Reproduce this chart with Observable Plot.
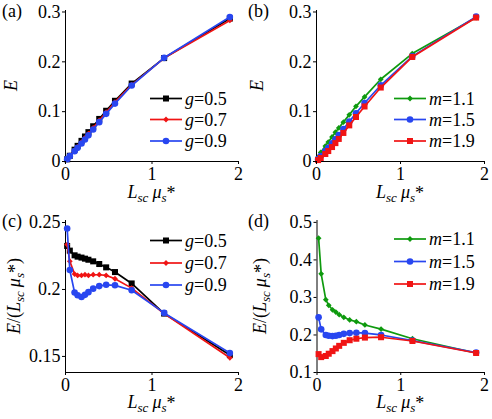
<!DOCTYPE html>
<html>
<head>
<meta charset="utf-8">
<script src="https://cdn.jsdelivr.net/npm/d3@7"></script>
<script src="https://cdn.jsdelivr.net/npm/@observablehq/plot@0.6"></script>
<style>
  body { margin: 0; background: white; }
  #wrap { position: relative; width: 492px; height: 419px; background: white; }
  #wrap svg { position: absolute; }
</style>
</head>
<body>
<div id="wrap"></div>
<script>
// ---- data ----
const X = [0.019, 0.05, 0.105, 0.14, 0.185, 0.225, 0.265, 0.32, 0.39, 0.47, 0.572, 0.765, 1.14, 1.9];

// (a) E vs L_sc mu_s*, varying g
const E_g05 = [0.0044, 0.0115, 0.0237, 0.0314, 0.0414, 0.0502, 0.0589, 0.0707, 0.0854, 0.1018, 0.1218, 0.1564, 0.2075, 0.2869];
const E_g07 = [0.0044, 0.0110, 0.0222, 0.0295, 0.0389, 0.0475, 0.0559, 0.0675, 0.0823, 0.0989, 0.1190, 0.1538, 0.2075, 0.2831];
const E_g09 = [0.0047, 0.0107, 0.0208, 0.0274, 0.0360, 0.0441, 0.0525, 0.0642, 0.0790, 0.0956, 0.1162, 0.1525, 0.2080, 0.2898];
// (b) E vs L_sc mu_s*, varying m
const E_m11 = [0.0087, 0.0182, 0.0309, 0.0391, 0.0494, 0.0587, 0.0673, 0.0790, 0.0936, 0.1107, 0.1296, 0.1650, 0.2166, 0.2888];
const E_m15 = [0.0047, 0.0108, 0.0210, 0.0277, 0.0364, 0.0446, 0.0530, 0.0650, 0.0800, 0.0968, 0.1173, 0.1530, 0.2109, 0.2907];
const E_m19 = [0.0028, 0.0070, 0.0151, 0.0210, 0.0290, 0.0369, 0.0453, 0.0573, 0.0725, 0.0893, 0.1104, 0.1484, 0.2098, 0.2888];
// (c) E/(L_sc mu_s*), varying g
const R_g05 = [0.2325, 0.229, 0.2255, 0.2245, 0.2238, 0.223, 0.2222, 0.221, 0.219, 0.2165, 0.213, 0.2045, 0.182, 0.151];
const R_g07 = [0.2335, 0.221, 0.2115, 0.2105, 0.2105, 0.211, 0.2105, 0.211, 0.211, 0.2105, 0.208, 0.201, 0.182, 0.149];
const R_g09 = [0.2455, 0.2145, 0.1977, 0.1957, 0.1944, 0.196, 0.198, 0.2006, 0.2025, 0.2035, 0.2031, 0.1994, 0.1825, 0.1525];
// (d) E/(L_sc mu_s*), varying m
const R_m11 = [0.458, 0.363, 0.294, 0.279, 0.267, 0.261, 0.254, 0.247, 0.240, 0.2355, 0.2266, 0.2157, 0.19, 0.152];
const R_m15 = [0.247, 0.215, 0.2, 0.198, 0.197, 0.198, 0.2, 0.203, 0.205, 0.206, 0.205, 0.2, 0.185, 0.153];
const R_m19 = [0.149, 0.141, 0.144, 0.15, 0.157, 0.164, 0.171, 0.179, 0.186, 0.19, 0.193, 0.194, 0.184, 0.152];

const xTicks = [0, 1, 2];
const yTicksE = [0, 0.1, 0.2, 0.3];
const yTicksC = [0.15, 0.2, 0.25];
const yTicksD = [0.1, 0.2, 0.3, 0.4, 0.5];
const gNames = ["0.5", "0.7", "0.9"];
const mNames = ["1.1", "1.5", "1.9"];
const panelNames = ["(a)", "(b)", "(c)", "(d)"];

// ---- styles ----
const FONT = "'Liberation Serif', 'Times New Roman', serif";
const BLACK = "#000000", RED = "#f01414", BLUE = "#2846f0", GREEN = "#0e9a0e";
const SQ = {symbol: "square", r: 3.4};
const DI = {symbol: "diamond2", r: 2.6};
const CI = {symbol: "circle", r: 3.3};

function makePanel(cfg) {
  const marks = [
    Plot.ruleX([0], {stroke: "black", strokeWidth: 1}),
    Plot.ruleY([cfg.ydomain[0]], {stroke: "black", strokeWidth: 1})
  ];
  for (const s of cfg.series) {
    const data = X.map((x, i) => ({x, y: s.y[i]}));
    marks.push(Plot.line(data, {x: "x", y: "y", stroke: s.color, strokeWidth: 1.7}));
    marks.push(Plot.dot(data, {x: "x", y: "y", fill: s.color, stroke: "none", symbol: s.mk.symbol, r: s.mk.r}));
  }
  marks.push(Plot.axisX({ticks: xTicks, tickSize: 3, tickPadding: 3, tickFormat: d => String(d), label: null}));
  marks.push(Plot.axisY({ticks: cfg.yticks, tickSize: 3, tickPadding: 2, tickFormat: d => String(d), label: null}));
  const svg = Plot.plot({
    width: 246, height: cfg.height,
    marginLeft: cfg.ml, marginRight: cfg.mr, marginTop: cfg.mt, marginBottom: cfg.mb,
    x: {domain: [0, 2]},
    y: {domain: cfg.ydomain},
    style: {fontFamily: FONT, fontSize: "18px", color: "black", background: "transparent", overflow: "visible"},
    marks
  });
  svg.style.left = cfg.left + "px";
  svg.style.top = cfg.top + "px";
  document.getElementById("wrap").appendChild(svg);

  const g = d3.select(svg).append("g").attr("font-family", FONT).attr("fill", "black").attr("text-anchor", "start");
  // panel label
  g.append("text").attr("x", 2).attr("y", cfg.mt + 7).attr("font-size", 18).attr("text-anchor", "start").text(cfg.name);
  // x label
  const plotCx = cfg.ml + (246 - cfg.ml - cfg.mr) / 2;
  const xl = g.append("text").attr("x", plotCx).attr("y", cfg.height - 11).attr("text-anchor", "middle").attr("font-size", 18);
  xl.append("tspan").attr("font-style", "italic").text("L");
  xl.append("tspan").attr("font-style", "italic").attr("font-size", 13).attr("dy", 4).text("sc");
  xl.append("tspan").attr("font-style", "italic").attr("dy", -4).attr("dx", 4).text("μ");
  xl.append("tspan").attr("font-style", "italic").attr("font-size", 13).attr("dy", 4).text("s");
  xl.append("tspan").attr("dy", -3).text("*");
  // y label
  const plotCy = cfg.mt + (cfg.height - cfg.mt - cfg.mb) / 2;
  const yl = g.append("text").attr("transform", `translate(${cfg.ylx},${plotCy}) rotate(-90)`).attr("text-anchor", "middle").attr("font-size", 18);
  if (cfg.ratio) {
    yl.append("tspan").attr("font-style", "italic").text("E");
    yl.append("tspan").text("/(");
    yl.append("tspan").attr("font-style", "italic").text("L");
    yl.append("tspan").attr("font-style", "italic").attr("font-size", 13).attr("dy", 4).text("sc");
    yl.append("tspan").attr("font-style", "italic").attr("dy", -4).attr("dx", 4).text("μ");
    yl.append("tspan").attr("font-style", "italic").attr("font-size", 13).attr("dy", 4).text("s");
    yl.append("tspan").attr("dy", -3).text("*");
    yl.append("tspan").attr("dy", -1).text(")");
  } else {
    yl.append("tspan").attr("font-style", "italic").text("E");
  }
  // legend
  cfg.series.forEach((s, i) => {
    const y = cfg.legY[i];
    const x0 = cfg.legX, x1 = cfg.legX + 32;
    g.append("line").attr("x1", x0).attr("x2", x1).attr("y1", y).attr("y2", y).attr("stroke", s.color).attr("stroke-width", 1.7);
    const sym = {square: d3.symbolSquare, circle: d3.symbolCircle, diamond2: d3.symbolDiamond2}[s.mk.symbol];
    g.append("path").attr("transform", `translate(${(x0 + x1) / 2},${y})`).attr("d", d3.symbol(sym, s.mk.r * s.mk.r * Math.PI)()).attr("fill", s.color);
    const t = g.append("text").attr("x", x1 + 3).attr("y", y + 6).attr("font-size", 18).attr("text-anchor", "start");
    t.append("tspan").attr("font-style", "italic").text(cfg.legVar);
    t.append("tspan").text("=" + s.label);
  });
}

makePanel({
  name: panelNames[0], left: 0, top: 0, height: 209, ml: 65, mr: 8, mt: 10, mb: 48,
  ydomain: [0, 0.303], yticks: yTicksE, ylx: 17, ratio: false,
  legX: 150, legY: [98.5, 119.5, 141], legVar: "g",
  series: [
    {y: E_g05, color: BLACK, mk: SQ, label: gNames[0]},
    {y: E_g07, color: RED, mk: DI, label: gNames[1]},
    {y: E_g09, color: BLUE, mk: CI, label: gNames[2]}
  ]
});
makePanel({
  name: panelNames[1], left: 246, top: 0, height: 209, ml: 70, mr: 8, mt: 10, mb: 48,
  ydomain: [0, 0.303], yticks: yTicksE, ylx: 17, ratio: false,
  legX: 148, legY: [98.5, 119.5, 141], legVar: "m",
  series: [
    {y: E_m11, color: GREEN, mk: DI, label: mNames[0]},
    {y: E_m15, color: BLUE, mk: CI, label: mNames[1]},
    {y: E_m19, color: RED, mk: SQ, label: mNames[2]}
  ]
});
makePanel({
  name: panelNames[2], left: 0, top: 209, height: 210, ml: 65, mr: 8, mt: 11, mb: 47,
  ydomain: [0.138, 0.2515], yticks: yTicksC, ylx: 20, ratio: true,
  legX: 150, legY: [31.5, 54, 76], legVar: "g",
  series: [
    {y: R_g05, color: BLACK, mk: SQ, label: gNames[0]},
    {y: R_g07, color: RED, mk: DI, label: gNames[1]},
    {y: R_g09, color: BLUE, mk: CI, label: gNames[2]}
  ]
});
makePanel({
  name: panelNames[3], left: 246, top: 209, height: 210, ml: 70.5, mr: 8, mt: 11, mb: 47,
  ydomain: [0.1, 0.505], yticks: yTicksD, ylx: 20, ratio: true,
  legX: 148, legY: [30, 52.5, 75], legVar: "m",
  series: [
    {y: R_m11, color: GREEN, mk: DI, label: mNames[0]},
    {y: R_m15, color: BLUE, mk: CI, label: mNames[1]},
    {y: R_m19, color: RED, mk: SQ, label: mNames[2]}
  ]
});
</script>
</body>
</html>
